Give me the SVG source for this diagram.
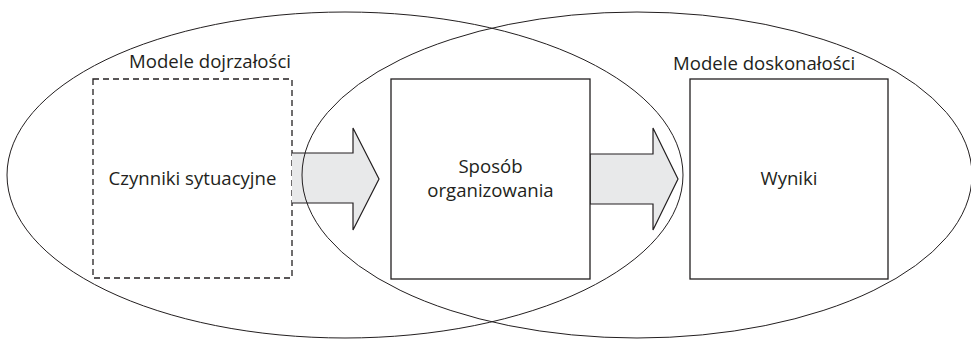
<svg xmlns="http://www.w3.org/2000/svg" width="971" height="340" viewBox="0 0 971 340">
<style>
.ell{fill:none;stroke:#231f20;stroke-width:1}
.box{fill:#fff;stroke:#231f20;stroke-width:1.3}
.dash{fill:#fff;stroke:#231f20;stroke-width:1.3;stroke-dasharray:6,4}
.arr{fill:#e8e9ea;stroke:#231f20;stroke-width:1.2;stroke-linejoin:miter}
text{font-family:"Open Sans","Noto Sans",sans-serif;font-size:18.6px;fill:#231f20}
.c{text-anchor:middle}
</style>
<rect width="971" height="340" fill="#fff"/>
<g id="node-situational">
<rect class="dash" x="93" y="79" width="199" height="199"/>
<text class="c" x="192.5" y="185">Czynniki sytuacyjne</text>
</g>
<g id="connectors">
<path class="arr" d="M292,153 H353 V128 L379,179 L353,230 V203 H292"/>
<path class="arr" d="M590,154 H653 V128 L678,179 L653,230 V204 H590 Z"/>
</g>
<g id="node-organizing">
<rect class="box" x="391" y="79" width="199" height="200"/>
<text class="c" x="490.5" y="173">Sposób</text>
<text class="c" x="490.5" y="197">organizowania</text>
</g>
<g id="node-results">
<rect class="box" x="690" y="79" width="198" height="200"/>
<text class="c" x="789" y="185">Wyniki</text>
</g>
<g id="maturity-models">
<ellipse class="ell" cx="345" cy="175" rx="338" ry="163"/>
<text x="291" y="68" text-anchor="end">Modele dojrzałości</text>
</g>
<g id="excellence-models">
<ellipse class="ell" cx="637" cy="175" rx="335" ry="163"/>
<text x="673" y="70">Modele doskonałości</text>
</g>
</svg>
